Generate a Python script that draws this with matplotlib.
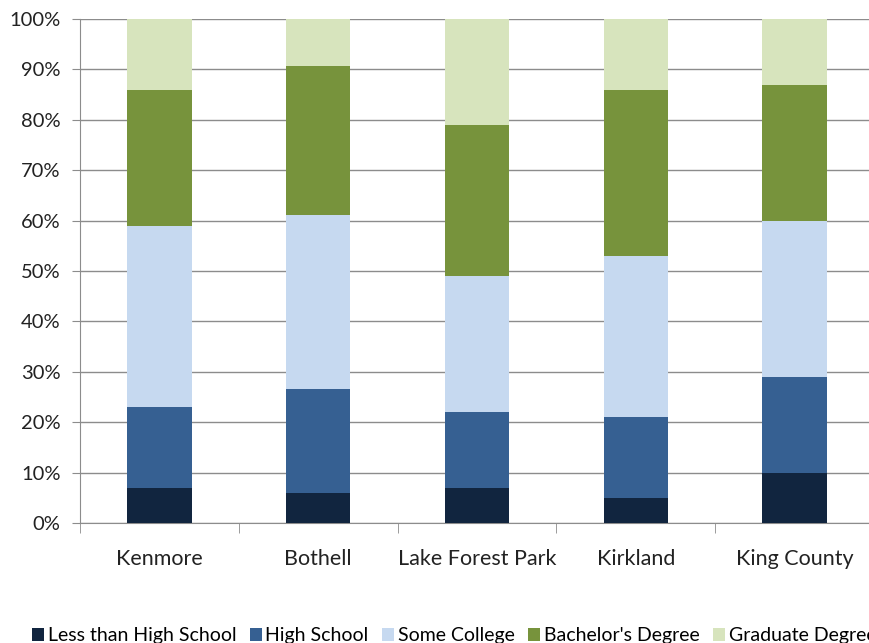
import matplotlib

matplotlib.use("Agg")
import matplotlib.pyplot as plt  # noqa: E402
from matplotlib.ticker import FuncFormatter, MultipleLocator  # noqa: E402

plt.rcParams["font.family"] = ["Lato", "DejaVu Sans"]

places = ["Kenmore", "Bothell", "Lake Forest Park", "Kirkland", "King County"]
less_than_hs = [7, 6, 7, 5, 10]
high_school = [16, 20.5, 15, 16, 19]
some_college = [36, 34.6, 27, 32, 31]
bachelors = [27, 29.6, 30, 33, 27]
graduate = [14, 9.3, 21, 14, 13]

series = [
    ("Less than High School", less_than_hs, "#11253f"),
    ("High School", high_school, "#366092"),
    ("Some College", some_college, "#c6d9f0"),
    ("Bachelor's Degree", bachelors, "#77933c"),
    ("Graduate Degree", graduate, "#d7e4bd"),
]

fig = plt.figure(figsize=(8.7, 6.43), dpi=100)
ax = fig.add_axes([80 / 870, 1 - 523 / 643, 794 / 870, 504 / 643])

x = range(len(places))
bottom = [0] * len(places)
handles = []
for label, vals, color in series:
    b = ax.bar(x, vals, width=0.405, bottom=bottom, color=color, label=label,
               zorder=3, linewidth=0)
    handles.append(b)
    bottom = [bt + v for bt, v in zip(bottom, vals)]

ax.set_xlim(-0.5, len(places) - 0.5)
ax.set_ylim(0, 100)
ax.yaxis.set_major_locator(MultipleLocator(10))
ax.yaxis.set_major_formatter(FuncFormatter(lambda v, _: f"{v:.0f}%"))
ax.grid(axis="y", color="#8c8c8c", linewidth=1, zorder=0)
for side in ["top", "right"]:
    ax.spines[side].set_visible(False)
for side in ["left", "bottom"]:
    ax.spines[side].set_color("#8c8c8c")

ax.set_xticks(x)
ax.set_xticklabels(places, fontsize=15.5, color="#222222")
ax.tick_params(axis="x", length=0, pad=19)
ax.set_xticks([i + 0.5 for i in range(-1, len(places))], minor=True)
ax.tick_params(axis="x", which="minor", length=7, color="#8c8c8c", direction="out")
ax.tick_params(axis="y", length=6, color="#8c8c8c", labelsize=14.5,
               labelcolor="#222222", pad=8)

fig.legend(handles=handles, loc="lower left", bbox_to_anchor=(0.028, -0.014),
           ncol=5, frameon=False, fontsize=14, handlelength=0.6,
           handleheight=0.6, handletextpad=0.2, columnspacing=0.7,
           borderaxespad=0)

plt.savefig("out.png", dpi=100)
plt.close()
